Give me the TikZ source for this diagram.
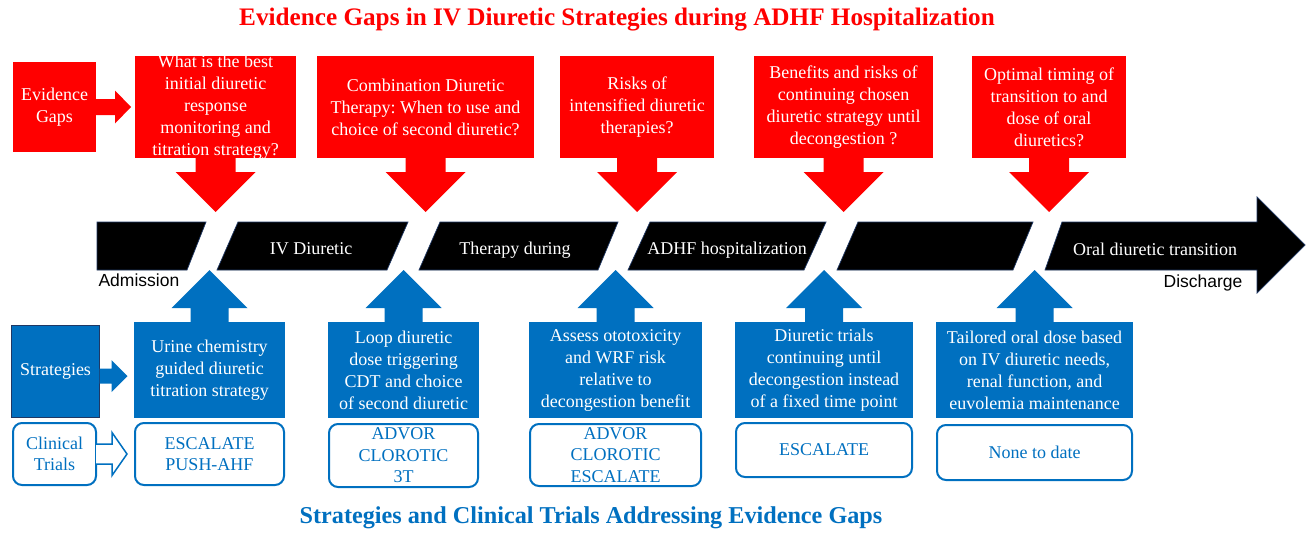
\documentclass[tikz,border=0pt]{standalone}
\usepackage{fontspec}
\setmainfont{Liberation Serif}
\newfontfamily\sansfam{Liberation Sans}
\frenchspacing

\definecolor{gapred}{RGB}{255,0,0}
\definecolor{stratblue}{RGB}{0,112,192}
\definecolor{edgenavy}{RGB}{31,56,100}

\tikzset{
  gapbox/.style={fill=gapred, text=white, align=center, inner sep=0pt, outer sep=0pt,
    font=\fontsize{18}{22}\selectfont},
  stratbox/.style={fill=stratblue, text=white, align=center, inner sep=0pt, outer sep=0pt,
    font=\fontsize{18}{22}\selectfont},
  trialbox/.style={draw=stratblue, line width=2pt, rounded corners=9pt, fill=white,
    text=stratblue, align=center, inner sep=0pt, outer sep=0pt,
    font=\fontsize{18}{21.5}\selectfont},
  segment/.style={fill=black, draw=edgenavy, line width=0.7pt},
  phase/.style={text=white, text height=12pt, text depth=4pt, font=\fontsize{18}{22}\selectfont},
  endpoint/.style={font=\sansfam\fontsize{17.5}{20}\selectfont}
}

\begin{document}
\begin{tikzpicture}[x=1pt, y=-1pt]
  \path[fill=white] (0,0) rectangle (1306,530);

  %% Titles
  \node[text=gapred, font=\bfseries\fontsize{25.2}{29}\selectfont] (title) at (617,20)
    {Evidence Gaps in IV Diuretic Strategies during ADHF Hospitalization};
  \node[text=stratblue, font=\bfseries\fontsize{24.2}{28}\selectfont] (subtitle) at (591,518)
    {Strategies and Clinical Trials Addressing Evidence Gaps};

  %% Draw the timeline
  \draw[segment] (97,222) -- (206,222) -- (187,270) -- (97,270) -- cycle;
  \draw[segment] (238,222) -- (408,222) -- (387,270) -- (217,270) -- cycle;
  \draw[segment] (440,222) -- (618,222) -- (598,270) -- (419,270) -- cycle;
  \draw[segment] (650,222) -- (826,222) -- (804,270) -- (628,270) -- cycle;
  \draw[segment] (858,222) -- (1033,222) -- (1013,270) -- (837,270) -- cycle;
  \draw[segment] (1062,222) -- (1257,222) -- (1257,197) -- (1305,245)
    -- (1257,293) -- (1257,270) -- (1045,270) -- cycle;
  \node[phase] (ivd) at (311,250) {IV Diuretic};
  \node[phase] (during) at (515,250) {Therapy during};
  \node[phase] (adhf) at (727,250) {ADHF hospitalization};
  \node[phase] (oral) at (1155,251) {Oral diuretic transition};
  \node[endpoint, anchor=west] (admit) at (95,280) {Admission};
  \node[endpoint] (discharge) at (1203,283) {Discharge};

  %% Draw the evidence gaps
  \node[gapbox, minimum width=83, minimum height=90] (gapL) at (54.5,107) {Evidence\\Gaps};
  \node[gapbox, minimum width=161, minimum height=102, inner ysep=-2pt] (gapA) at (215.5,107)
    {What is the best\\initial diuretic\\response\\monitoring and\\titration strategy?};
  \node[gapbox, minimum width=217, minimum height=102] (gapB) at (425.5,107)
    {Combination Diuretic\\Therapy: When to use and\\choice of second diuretic?};
  \node[gapbox, minimum width=154, minimum height=102] (gapC) at (637,107)
    {Risks of\\intensified diuretic\\therapies?};
  \node[gapbox, minimum width=179, minimum height=102] (gapD) at (843.5,107)
    {Benefits and risks of\\continuing chosen\\diuretic strategy until\\decongestion ?};
  \node[gapbox, minimum width=154, minimum height=102] (gapE) at (1049,107)
    {Optimal timing of\\transition to and\\dose of oral\\diuretics?};

  %% Draw the strategies
  \node[stratbox, draw=edgenavy, line width=1.2pt, minimum width=88, minimum height=92,
    text height=12pt, text depth=4pt] (stratL) at (55.5,371.5) {Strategies};
  \node[stratbox, minimum width=151, minimum height=96] (stratA) at (209.5,370)
    {Urine chemistry\\guided diuretic\\titration strategy};
  \node[stratbox, minimum width=151, minimum height=96] (stratB) at (403.5,370)
    {Loop diuretic\\dose triggering\\CDT and choice\\of second diuretic};
  \node[stratbox, minimum width=173, minimum height=96] (stratC) at (615.5,370)
    {Assess ototoxicity\\and WRF risk\\relative to\\decongestion benefit};
  \node[stratbox, minimum width=178, minimum height=96] (stratD) at (824,370)
    {Diuretic trials\\continuing until\\decongestion instead\\of a fixed time point};
  \node[stratbox, minimum width=197, minimum height=96] (stratE) at (1034.5,370)
    {Tailored oral dose based\\on IV diuretic needs,\\renal function, and\\euvolemia maintenance};

  %% Draw the clinical trials
  \node[trialbox, minimum width=83, minimum height=62] (trialL) at (54.5,454) {Clinical\\Trials};
  \node[trialbox, minimum width=149, minimum height=62] (trialA) at (209.5,454)
    {ESCALATE\\PUSH-AHF};
  \node[trialbox, minimum width=149, minimum height=63] (trialB) at (403.5,455.5)
    {ADVOR\\CLOROTIC\\3T};
  \node[trialbox, minimum width=171, minimum height=62] (trialC) at (615.5,455)
    {ADVOR\\CLOROTIC\\ESCALATE};
  \node[trialbox, minimum width=176, minimum height=54] (trialD) at (824,450) {ESCALATE};
  \node[trialbox, minimum width=195, minimum height=55] (trialE) at (1034.5,452.5) {None to date};

  %% Draw the block arrows
  \begin{scope}[every path/.style={fill=gapred}]
    \path (gapL.east) ++(0,-8) -- ++(19,0) -- ++(0,-8.5) -- ++(16,16.5)
      -- ++(-16,16.5) -- ++(0,-8.5) -- ++(-19,0) -- cycle;
    \path (gapA.south) ++(-20,0) -- ++(0,14) -- ++(-20,0) -- ++(40,40) -- ++(40,-40) -- ++(-20,0) -- ++(0,-14) -- cycle;
    \path (gapB.south) ++(-20,0) -- ++(0,14) -- ++(-20,0) -- ++(40,40) -- ++(40,-40) -- ++(-20,0) -- ++(0,-14) -- cycle;
    \path (gapC.south) ++(-20,0) -- ++(0,14) -- ++(-20,0) -- ++(40,40) -- ++(40,-40) -- ++(-20,0) -- ++(0,-14) -- cycle;
    \path (gapD.south) ++(-20,0) -- ++(0,14) -- ++(-20,0) -- ++(40,40) -- ++(40,-40) -- ++(-20,0) -- ++(0,-14) -- cycle;
    \path (gapE.south) ++(-20,0) -- ++(0,14) -- ++(-20,0) -- ++(40,40) -- ++(40,-40) -- ++(-20,0) -- ++(0,-14) -- cycle;
  \end{scope}
  \begin{scope}[every path/.style={fill=stratblue}]
    \path ([yshift=-4.5pt]stratL.east) ++(0,-7.5) -- ++(12,0) -- ++(0,-8.5) -- ++(16,16)
      -- ++(-16,16) -- ++(0,-8.5) -- ++(-12,0) -- cycle;
    \path (stratA.north) ++(-19,0) -- ++(0,-14) -- ++(-19,0) -- ++(38,-38) -- ++(38,38) -- ++(-19,0) -- ++(0,14) -- cycle;
    \path (stratB.north) ++(-19,0) -- ++(0,-14) -- ++(-19,0) -- ++(38,-38) -- ++(38,38) -- ++(-19,0) -- ++(0,14) -- cycle;
    \path (stratC.north) ++(-19,0) -- ++(0,-14) -- ++(-19,0) -- ++(38,-38) -- ++(38,38) -- ++(-19,0) -- ++(0,14) -- cycle;
    \path (stratD.north) ++(-19,0) -- ++(0,-14) -- ++(-19,0) -- ++(38,-38) -- ++(38,38) -- ++(-19,0) -- ++(0,14) -- cycle;
    \path (stratE.north) ++(-19,0) -- ++(0,-14) -- ++(-19,0) -- ++(38,-38) -- ++(38,38) -- ++(-19,0) -- ++(0,14) -- cycle;
  \end{scope}
  \draw[stratblue, line width=1.5pt, fill=white, line join=miter] (trialL.east) ++(0,-10)
    -- ++(16,0) -- ++(0,-11.5) -- ++(15,21.5) -- ++(-15,21.5) -- ++(0,-11.5) -- ++(-16,0);
\end{tikzpicture}
\end{document}
